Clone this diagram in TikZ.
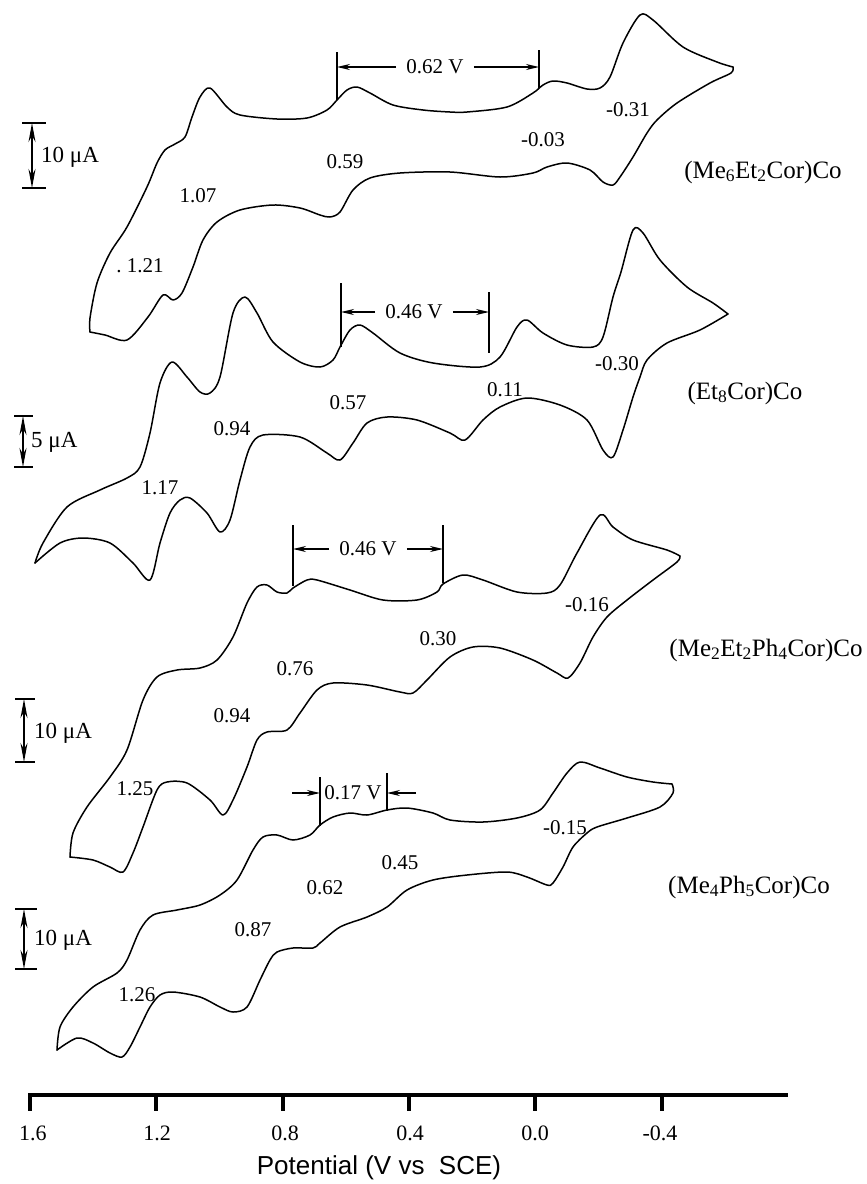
\documentclass[tikz,border=0pt]{standalone}
\usepackage{fontspec}
\setmainfont{Liberation Serif}
\newfontfamily\axisfont{Liberation Sans}
\usetikzlibrary{arrows.meta,positioning,calc}

\begin{document}
\begin{tikzpicture}[x=1pt,y=-1pt,>={Stealth[length=13pt,width=6pt]},
  cv/.style={line width=1.5pt,line join=round,line cap=round},
  val/.style={font=\fontsize{21}{24}\selectfont,inner sep=1pt},
  gap/.style={val,inner xsep=10pt},
  cmpd/.style={font=\fontsize{25}{28}\selectfont,inner sep=1pt},
  unit/.style={font=\fontsize{23}{26}\selectfont,inner sep=1pt,anchor=west},
  bar/.style={line width=1.5pt},
  sbar/.style={bar,{Stealth[length=19pt,width=7pt]}-{Stealth[length=19pt,width=7pt]}},
  tick/.style={line width=3.5pt},
  tlbl/.style={font=\fontsize{22}{24}\selectfont,inner sep=1pt}]
\useasboundingbox (0,0) rectangle (867,1184);

% (Me6Et2Cor)Co
\draw[cv] plot[smooth] coordinates {(90,332) (90,318) (97,283) (110,253) (127,227) (147,187) (157,163) (165,150) (175,144) (185,137) (192,117) (200,97) (210,88) (227,107) (240,115) (277,119) (307,118) (327,110) (337,100) (347,90) (357,87) (370,93) (393,105) (423,110) (450,112) (467,112) (507,107) (533,93) (543,85) (553,81) (567,83) (587,89) (600,88) (610,77) (623,43) (640,15) (653,20) (683,47) (717,62) (733,67)};
\draw[cv] plot[smooth] coordinates {(733,67) (731,73) (710,83) (677,103) (657,120) (647,133) (633,157) (620,177) (613,185) (603,182) (590,170) (567,163) (547,167) (533,173) (500,177) (450,172) (400,173) (370,178) (353,190) (340,212) (330,217) (320,215) (300,208) (273,205) (240,210) (217,222) (203,240) (193,267) (182,293) (173,300) (163,295) (148,317) (127,340) (105,335) (90,332)};

% (Et8Cor)Co
\draw[cv] plot[smooth] coordinates {(35,563) (43,543) (67,507) (100,490) (127,478) (140,467) (150,433) (160,383) (172,362) (187,377) (200,392) (210,393) (220,377) (233,313) (245,297) (257,313) (273,342) (300,362) (320,367) (333,360) (340,347) (350,330) (360,325) (373,333) (400,353) (433,363) (480,367) (500,357) (517,327) (527,320) (543,333) (567,345) (593,347) (603,337) (613,297) (621,272) (633,230) (643,233) (660,260) (687,287) (713,303) (728,314)};
\draw[cv] plot[smooth] coordinates {(728,314) (700,330) (667,343) (647,360) (640,377) (633,397) (623,430) (613,457) (603,450) (587,420) (560,405) (527,398) (500,407) (483,420) (465,440) (450,433) (417,420) (387,417) (367,423) (353,443) (340,460) (327,453) (300,437) (263,435) (250,447) (240,480) (230,520) (220,532) (207,513) (190,498) (180,500) (170,513) (160,543) (150,580) (133,563) (110,543) (83,538) (60,543) (35,563)};

% (Me2Et2Ph4Cor)Co
\draw[cv] plot[smooth] coordinates {(70,857) (73,833) (87,807) (110,777) (127,750) (143,700) (157,677) (177,670) (200,668) (217,660) (233,637) (247,603) (257,587) (267,585) (277,592) (287,593) (293,588) (307,580) (317,580) (350,590) (383,600) (417,600) (437,592) (443,584) (463,575) (483,580) (517,592) (547,593) (560,585) (577,553) (600,515) (613,527) (633,540) (667,550) (680,556)};
\draw[cv] plot[smooth] coordinates {(680,556) (677,562) (653,580) (627,600) (607,617) (593,637) (580,663) (568,678) (557,673) (533,660) (500,648) (473,647) (450,657) (427,680) (413,693) (400,692) (367,685) (333,683) (317,690) (300,713) (287,730) (267,732) (257,740) (247,767) (233,800) (223,815) (210,800) (187,783) (167,782) (157,790) (143,827) (133,853) (123,872) (110,867) (93,860) (70,857)};

% (Me4Ph5Cor)Co
\draw[cv] plot[smooth] coordinates {(57,1050) (60,1027) (73,1007) (93,987) (117,973) (127,960) (140,930) (153,915) (177,910) (200,905) (220,895) (237,880) (253,850) (263,837) (277,835) (293,840) (310,835) (320,825) (333,817) (350,813) (367,815) (387,810) (407,808) (433,813) (450,820) (483,822) (517,818) (540,810) (553,793) (567,773) (580,762) (600,768) (627,777) (653,782) (672,784)};
\draw[cv] plot[smooth] coordinates {(672,784) (673,793) (660,807) (627,818) (597,827) (587,833) (573,847) (563,867) (553,883) (547,885) (527,877) (507,872) (467,875) (433,880) (407,890) (387,907) (367,917) (340,927) (320,943) (313,948) (293,948) (277,952) (270,960) (260,980) (247,1007) (233,1012) (220,1007) (200,997) (173,992) (160,995) (150,1007) (140,1027) (130,1047) (122,1057) (110,1053) (93,1043) (77,1038) (57,1050)};

% peak separations
\draw[bar] (337,52) coordinate (g1a) -- (337,100);
\draw[bar] (539,50) coordinate (g1b) -- (539,88);
\node[gap] (g1) at (435,67) {0.62 V};
\draw[bar,->] (g1) -- (g1a |- g1);
\draw[bar,->] (g1) -- (g1b |- g1);

\draw[bar] (341,283) coordinate (g2a) -- (341,347);
\draw[bar] (489,292) coordinate (g2b) -- (489,353);
\node[gap] (g2) at (414,312) {0.46 V};
\draw[bar,->] (g2) -- (g2a |- g2);
\draw[bar,->] (g2) -- (g2b |- g2);

\draw[bar] (293,525) coordinate (g3a) -- (293,586);
\draw[bar] (443,525) coordinate (g3b) -- (443,583);
\node[gap] (g3) at (368,549) {0.46 V};
\draw[bar,->] (g3) -- (g3a |- g3);
\draw[bar,->] (g3) -- (g3b |- g3);

\draw[bar] (320,777) coordinate (g4a) -- (320,826);
\draw[bar] (387,773) coordinate (g4b) -- (387,811);
\node[val] (g4) at (353,793) {0.17 V};
\coordinate (g4l) at (292,793);
\coordinate (g4r) at (416,793);
\draw[bar,->] (g4l) -- (g4a |- g4);
\draw[bar,->] (g4r) -- (g4b |- g4);

% current scale bars
\draw[bar] (22,123) -- (46,123);
\draw[bar] (22,188) -- (46,188);
\draw[sbar] (32,123) coordinate (s1a) -- (32,188);
\node[unit] (s1) at (40,157) {10 μA};

\draw[bar] (14,416) -- (33,416);
\draw[bar] (14,467) -- (33,467);
\draw[sbar] (23,416) coordinate (s2a) -- (23,467);
\node[unit] (s2) at (30,442) {5 μA};

\draw[bar] (15,699) -- (35,699);
\draw[bar] (15,762) -- (35,762);
\draw[sbar] (24,699) coordinate (s3a) -- (24,762);
\node[unit] (s3) at (33,733) {10 μA};

\draw[bar] (15,909) -- (37,909);
\draw[bar] (15,969) -- (37,969);
\draw[sbar] (24,909) coordinate (s4a) -- (24,969);
\node[unit] (s4) at (33,940) {10 μA};

% peak potentials
\node[val] (e1a) at (140,266) {.\ 1.21};
\node[val] (e1b) at (198,196) {1.07};
\node[val] (e1c) at (345,162) {0.59};
\node[val] (e1d) at (543,140) {-0.03};
\node[val] (e1e) at (628,110) {-0.31};
\node[val] (e2a) at (160,488) {1.17};
\node[val] (e2b) at (232,429) {0.94};
\node[val] (e2c) at (348,403) {0.57};
\node[val] (e2d) at (505,390) {0.11};
\node[val] (e2e) at (617,364) {-0.30};
\node[val] (e3a) at (135,789) {1.25};
\node[val] (e3b) at (232,716) {0.94};
\node[val] (e3c) at (295,669) {0.76};
\node[val] (e3d) at (438,639) {0.30};
\node[val] (e3e) at (587,605) {-0.16};
\node[val] (e4a) at (137,995) {1.26};
\node[val] (e4b) at (253,930) {0.87};
\node[val] (e4c) at (325,888) {0.62};
\node[val] (e4d) at (400,863) {0.45};
\node[val] (e4e) at (565,828) {-0.15};

% compounds
\node[cmpd] (c1) at (763,172) {(Me\textsubscript{6}Et\textsubscript{2}Cor)Co};
\node[cmpd] (c2) at (745,393) {(Et\textsubscript{8}Cor)Co};
\node[cmpd] (c3) at (766,650) {(Me\textsubscript{2}Et\textsubscript{2}Ph\textsubscript{4}Cor)Co};
\node[cmpd] (c4) at (749,887) {(Me\textsubscript{4}Ph\textsubscript{5}Cor)Co};

% potential axis
\draw[tick] (28,1095) coordinate (ax0) -- (788,1095) coordinate (ax1);
\draw[tick] (30,1095) -- (30,1111);
\draw[tick] (156,1095) -- (156,1111);
\draw[tick] (283,1095) -- (283,1111);
\draw[tick] (409,1095) -- (409,1111);
\draw[tick] (535,1095) -- (535,1111);
\draw[tick] (662,1095) -- (662,1111);
\node[tlbl] (t1) at (33,1133) {1.6};
\node[tlbl] (t2) at (157,1133) {1.2};
\node[tlbl] (t3) at (285,1133) {0.8};
\node[tlbl] (t4) at (410,1133) {0.4};
\node[tlbl] (t5) at (535,1133) {0.0};
\node[tlbl] (t6) at (660,1133) {-0.4};
\node[font=\axisfont\fontsize{26}{30}\selectfont,inner sep=1pt] (xl) at (379,1168) {Potential (V vs\ \ SCE)};

\end{tikzpicture}
\end{document}
